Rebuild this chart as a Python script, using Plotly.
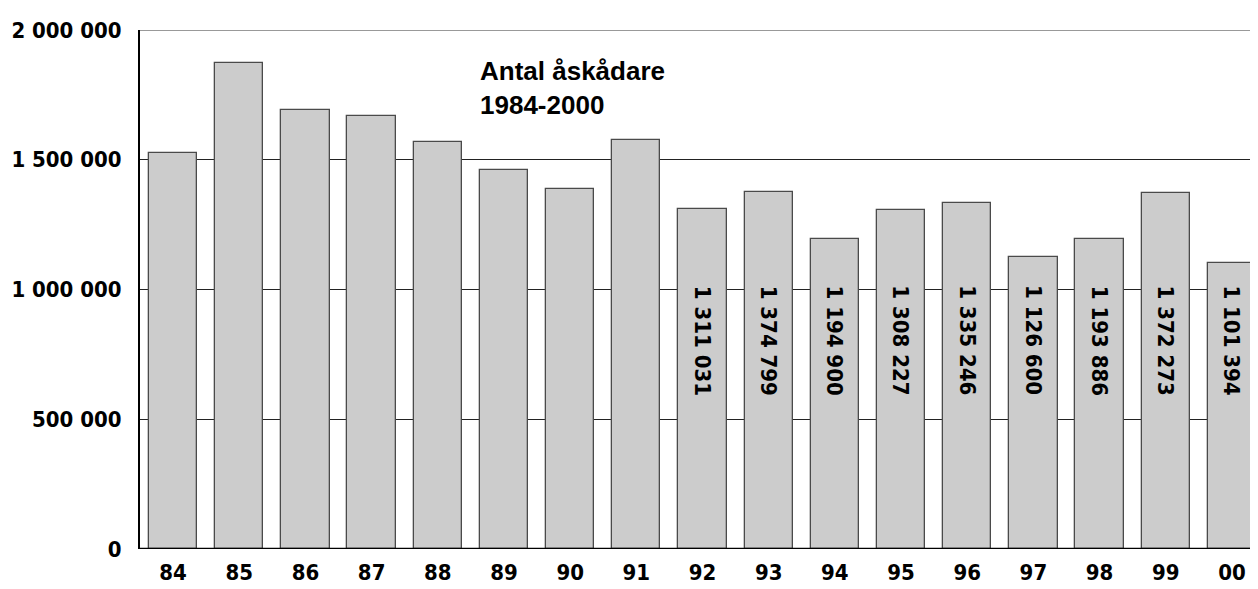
import plotly.graph_objects as go

years = ["84", "85", "86", "87", "88", "89", "90", "91", "92", "93", "94", "95", "96", "97", "98", "99", "00"]
attendance = [1526000, 1873000, 1690000, 1667000, 1567000, 1459000, 1387000, 1576000,
              1311031, 1374799, 1194900, 1308227, 1335246, 1126600, 1193886, 1372273, 1101394]
labeled_from = 8  # values are written inside bars from 1992 onwards
y_ticks = [0, 500000, 1000000, 1500000, 2000000]
y_tick_text = ["0", "500 000", "1 000 000", "1 500 000", "2 000 000"]
title_text = "Antal åskådare<br>1984-2000"

NARROW = "DejaVu Sans Condensed, DejaVu Sans, sans-serif"
FS = 22

def fmt(v):
    return f"{v:,}".replace(",", " ")

# the page body has an 8px margin, so the figure is drawn 8px smaller and offset
OFF = 8
W, H = 1258 - OFF, 589 - OFF
ml, mr, mt, mb = 140 - OFF, 0, 30 - OFF, 40
pw, ph = W - ml - mr, H - mt - mb

fig = go.Figure()
fig.add_trace(go.Bar(
    x=list(range(len(years))), y=attendance, width=0.73,
    marker=dict(color="#cccccc", line=dict(color="#4a4a4a", width=1.3)),
    hoverinfo="skip",
))

for i in range(labeled_from, len(years)):
    fig.add_annotation(
        x=i, y=804000, xref="x", yref="y", text=fmt(attendance[i]),
        textangle=90, showarrow=False, xanchor="center", yanchor="middle",
        font=dict(family=NARROW, size=FS, color="#000000", weight="bold"),
    )

fig.add_annotation(
    x=(478 - 140) / pw, y=(549 - 54) / ph, xref="paper", yref="paper",
    text=title_text, showarrow=False,
    xanchor="left", yanchor="top", align="left",
    font=dict(family="Liberation Sans, Arial, sans-serif", size=26, color="#000000", weight="bold"),
)

fig.update_layout(
    width=W, height=H,
    margin=dict(l=ml, r=mr, t=mt, b=mb, autoexpand=False),
    plot_bgcolor="white", paper_bgcolor="white",
    showlegend=False, bargap=0,
    xaxis=dict(
        range=[-0.5, 16.394], tickmode="array", tickvals=list(range(len(years))), ticktext=years,
        showgrid=False, zeroline=False, showline=False, ticks="", automargin=False,
        tickfont=dict(family=NARROW, size=FS, color="#000000", weight="bold"),
        ticklabelstandoff=8,
    ),
    yaxis=dict(
        range=[0, 2000000], tickmode="array", tickvals=y_ticks, ticktext=y_tick_text,
        showgrid=True, gridcolor="#222222", gridwidth=1, zeroline=False, automargin=False,
        showline=True, linecolor="#000000", linewidth=2, ticks="",
        tickfont=dict(family=NARROW, size=FS, color="#000000", weight="bold"),
        ticklabelstandoff=12,
    ),
)
fig.add_shape(type="line", xref="paper", yref="y", x0=0, x1=1, y0=0, y1=0,
              line=dict(color="#000000", width=2.5), layer="above")
fig.add_shape(type="line", xref="paper", yref="y", x0=0, x1=1, y0=2000000, y1=2000000,
              line=dict(color="#777777", width=1.3), layer="above")

fig.write_html("out.html")
